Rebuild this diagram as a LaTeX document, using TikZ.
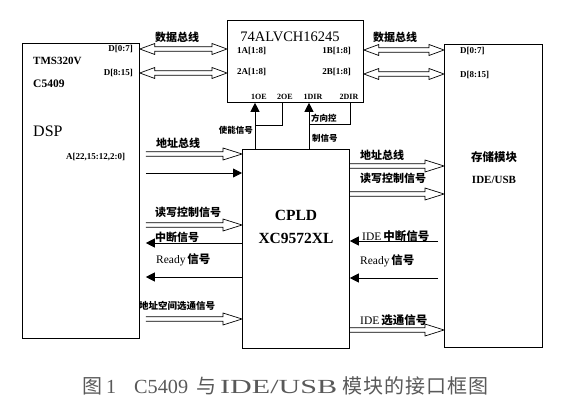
\documentclass[tikz,border=0pt]{standalone}
\usepackage{fontspec}
\setmainfont{Liberation Serif}
\newfontfamily\cjk{Noto Sans CJK SC}
\usetikzlibrary{arrows.meta,calc}
\newcommand\holR[2]{\draw[hollow] ($(#1)+(0,-2.2)$) -- ($(#2)+(-19,-2.2)$) -- ($(#2)+(-19,-6)$) -- (#2) -- ($(#2)+(-19,6)$) -- ($(#2)+(-19,2.2)$) -- ($(#1)+(0,2.2)$);}
\newcommand\holB[2]{\draw[hollow] (#1) -- ($(#1)+(15,-5.5)$) -- ($(#1)+(15,-2.2)$) -- ($(#2)+(-15,-2.2)$) -- ($(#2)+(-15,-5.5)$) -- (#2) -- ($(#2)+(-15,5.5)$) -- ($(#2)+(-15,2.2)$) -- ($(#1)+(15,2.2)$) -- ($(#1)+(15,5.5)$) -- cycle;}
\tikzset{
  box/.style={draw,line width=0.8pt,inner sep=0pt,anchor=north west},
  hollow/.style={draw,line width=0.7pt,line join=miter},
  sarr/.style={draw,line width=0.8pt,-{Triangle[length=9pt,width=9pt]}},
  wire/.style={draw,line width=0.8pt},
  lab/.style={inner sep=0pt,anchor=west,font=\cjk\bfseries\fontsize{11}{11}\selectfont},
  slab/.style={inner sep=0pt,anchor=west,font=\cjk\bfseries\fontsize{8.5}{8.5}\selectfont},
  pinlab/.style={inner sep=0pt,font=\bfseries\fontsize{9}{9}\selectfont},
  oelab/.style={inner sep=0pt,font=\bfseries\fontsize{8}{8}\selectfont},
  bigtxt/.style={inner sep=0pt,font=\bfseries\fontsize{15.5}{15.5}\selectfont},
  captxt/.style={inner sep=0pt,anchor=base west,text=black!65,font=\fontsize{20}{20}\selectfont},
}
\begin{document}
\begin{tikzpicture}[x=1pt,y=-1pt]
\useasboundingbox (0,0) rectangle (566,409);
% boxes
\node[box,minimum width=117pt,minimum height=295pt] (dsp) at (22,43) {};
\node[box,minimum width=136pt,minimum height=82pt] (buf) at (227,20) {};
\node[box,minimum width=107pt,minimum height=199pt] (cpld) at (242,149) {};
\node[box,minimum width=98pt,minimum height=303pt] (mem) at (444,44) {};
% data buses
\holB{dsp.east|-0,49}{buf.west|-0,49}
\holB{dsp.east|-0,73}{buf.west|-0,73}
\holB{buf.east|-0,50}{mem.west|-0,50}
\holB{buf.east|-0,74}{mem.west|-0,74}
% DSP <-> CPLD
\coordinate (la1) at ($(dsp.east|-0,154)+(6,0)$);
\coordinate (la2) at ($(dsp.east|-0,173)+(6,0)$);
\coordinate (la3) at ($(dsp.east|-0,225)+(6,0)$);
\coordinate (la4) at ($(dsp.east|-0,243)+(6,0)$);
\coordinate (la5) at ($(dsp.east|-0,277)+(6,0)$);
\coordinate (la6) at ($(dsp.east|-0,319)+(6,0)$);
\holR{la1}{cpld.west|-0,154}
\draw[sarr] (la2) -- (cpld.west|-0,173);
\holR{la3}{cpld.west|-0,225}
\draw[sarr] (cpld.west|-0,243) -- (la4);
\draw[sarr] (cpld.west|-0,277) -- (la5);
\holR{la6}{cpld.west|-0,319}
% CPLD <-> memory
\coordinate (rb1) at ($(mem.west|-0,241)+(-6,0)$);
\coordinate (rb2) at ($(mem.west|-0,278)+(-6,0)$);
\holR{cpld.east|-0,166}{mem.west|-0,166}
\holR{cpld.east|-0,194}{mem.west|-0,194}
\draw[sarr] (rb1) -- (cpld.east|-0,241);
\draw[sarr] (rb2) -- (cpld.east|-0,278);
\holR{cpld.east|-0,330}{mem.west|-0,330}
% enable / direction
\coordinate (j1) at (255,125);
\coordinate (j2) at (309,124);
\draw[sarr] (cpld.north-|j1) -- (buf.south-|j1);
\draw[wire] (buf.south-|282,0) |- (j1);
\draw[sarr] (cpld.north-|j2) -- (buf.south-|j2);
\draw[wire] (buf.south-|350,0) |- (j2);
% DSP texts
\node[inner sep=0pt,anchor=west,font=\bfseries\fontsize{11}{11}\selectfont] (t1) at (33,61) {TMS320V};
\node[inner sep=0pt,anchor=west,font=\bfseries\fontsize{11.5}{11.5}\selectfont] (t2) at (33,84) {C5409};
\node[inner sep=0pt,anchor=west,font=\fontsize{16}{16}\selectfont] (t3) at (33,131) {DSP};
\node[pinlab,anchor=east] (p1) at (133,49) {D[0:7]};
\node[pinlab,anchor=east] (p2) at (133,73) {D[8:15]};
\node[pinlab,anchor=west] (p3) at (66,157) {A[22,15:12,2:0]};
% buffer texts
\node[inner sep=0pt,font=\fontsize{14.5}{14.5}\selectfont] (b0) at (290,37) {74ALVCH16245};
\node[pinlab,anchor=west] (b1) at (237,51) {1A[1:8]};
\node[pinlab,anchor=west] (b2) at (237,72) {2A[1:8]};
\node[pinlab,anchor=east] (b3) at (351,51) {1B[1:8]};
\node[pinlab,anchor=east] (b4) at (351,72) {2B[1:8]};
\node[oelab] (b5) at (259,97) {1OE};
\node[oelab] (b6) at (285,97) {2OE};
\node[oelab] (b7) at (313,97) {1DIR};
\node[oelab] (b8) at (349,97) {2DIR};
\node[slab,anchor=east] (e1) at (253,130) {使能信号};
\node[slab] (e2) at (311,118) {方向控};
\node[slab] (e3) at (312,138) {制信号};
% CPLD texts
\node[bigtxt] (c1) at (296,215) {CPLD};
\node[bigtxt] (c2) at (296,238) {XC9572XL};
% memory texts
\node[inner sep=0pt,font=\cjk\bfseries\fontsize{11.5}{11.5}\selectfont] (m1) at (494,157) {存储模块};
\node[inner sep=0pt,font=\bfseries\fontsize{11}{11}\selectfont] (m2) at (494,180) {IDE/USB};
\node[pinlab,anchor=west] (m3) at (460,51) {D[0:7]};
\node[pinlab,anchor=west] (m4) at (460,75) {D[8:15]};
% bus labels
\node[lab] (l0) at (155,37) {数据总线};
\node[lab] (r0) at (373,37) {数据总线};
\node[lab] (l1) at (156,143) {地址总线};
\node[lab] (l3) at (155,212) {读写控制信号};
\node[lab] (l4) at (155,237) {中断信号};
\node[lab,font=\fontsize{11.5}{11.5}\selectfont] (l5) at (156,260) {Ready\,{\cjk\bfseries 信号}};
\node[lab,font=\cjk\bfseries\fontsize{9.5}{9.5}\selectfont] (l6) at (139,306) {地址空间选通信号};
\node[lab] (r1) at (360,155) {地址总线};
\node[lab] (r2) at (360,178) {读写控制信号};
\node[lab,font=\fontsize{11.5}{11.5}\selectfont] (r3) at (362,236) {IDE\,{\cjk\bfseries 中断信号}};
\node[lab,font=\fontsize{11.5}{11.5}\selectfont] (r4) at (360,261) {Ready\,{\cjk\bfseries 信号}};
\node[lab,font=\fontsize{11.5}{11.5}\selectfont] (r5) at (360,320) {IDE\,{\cjk\bfseries 选通信号}};
% caption
\node[captxt] (k1) at (82,393) {\cjk 图};
\node[captxt] (k2) at (106,393) {1};
\node[captxt] (k3) at (134,393) {\resizebox{54pt}{\height}{C5409}};
\node[captxt] (k4) at (196,393) {\cjk 与};
\node[captxt] (k5) at (220,393) {\resizebox{117pt}{\height}{IDE/USB}};
\node[captxt] (k6) at (342,393) {\cjk 模\hspace{1pt}块\hspace{1pt}的\hspace{1pt}接\hspace{1pt}口\hspace{1pt}框\hspace{1pt}图};
\end{tikzpicture}
\end{document}
